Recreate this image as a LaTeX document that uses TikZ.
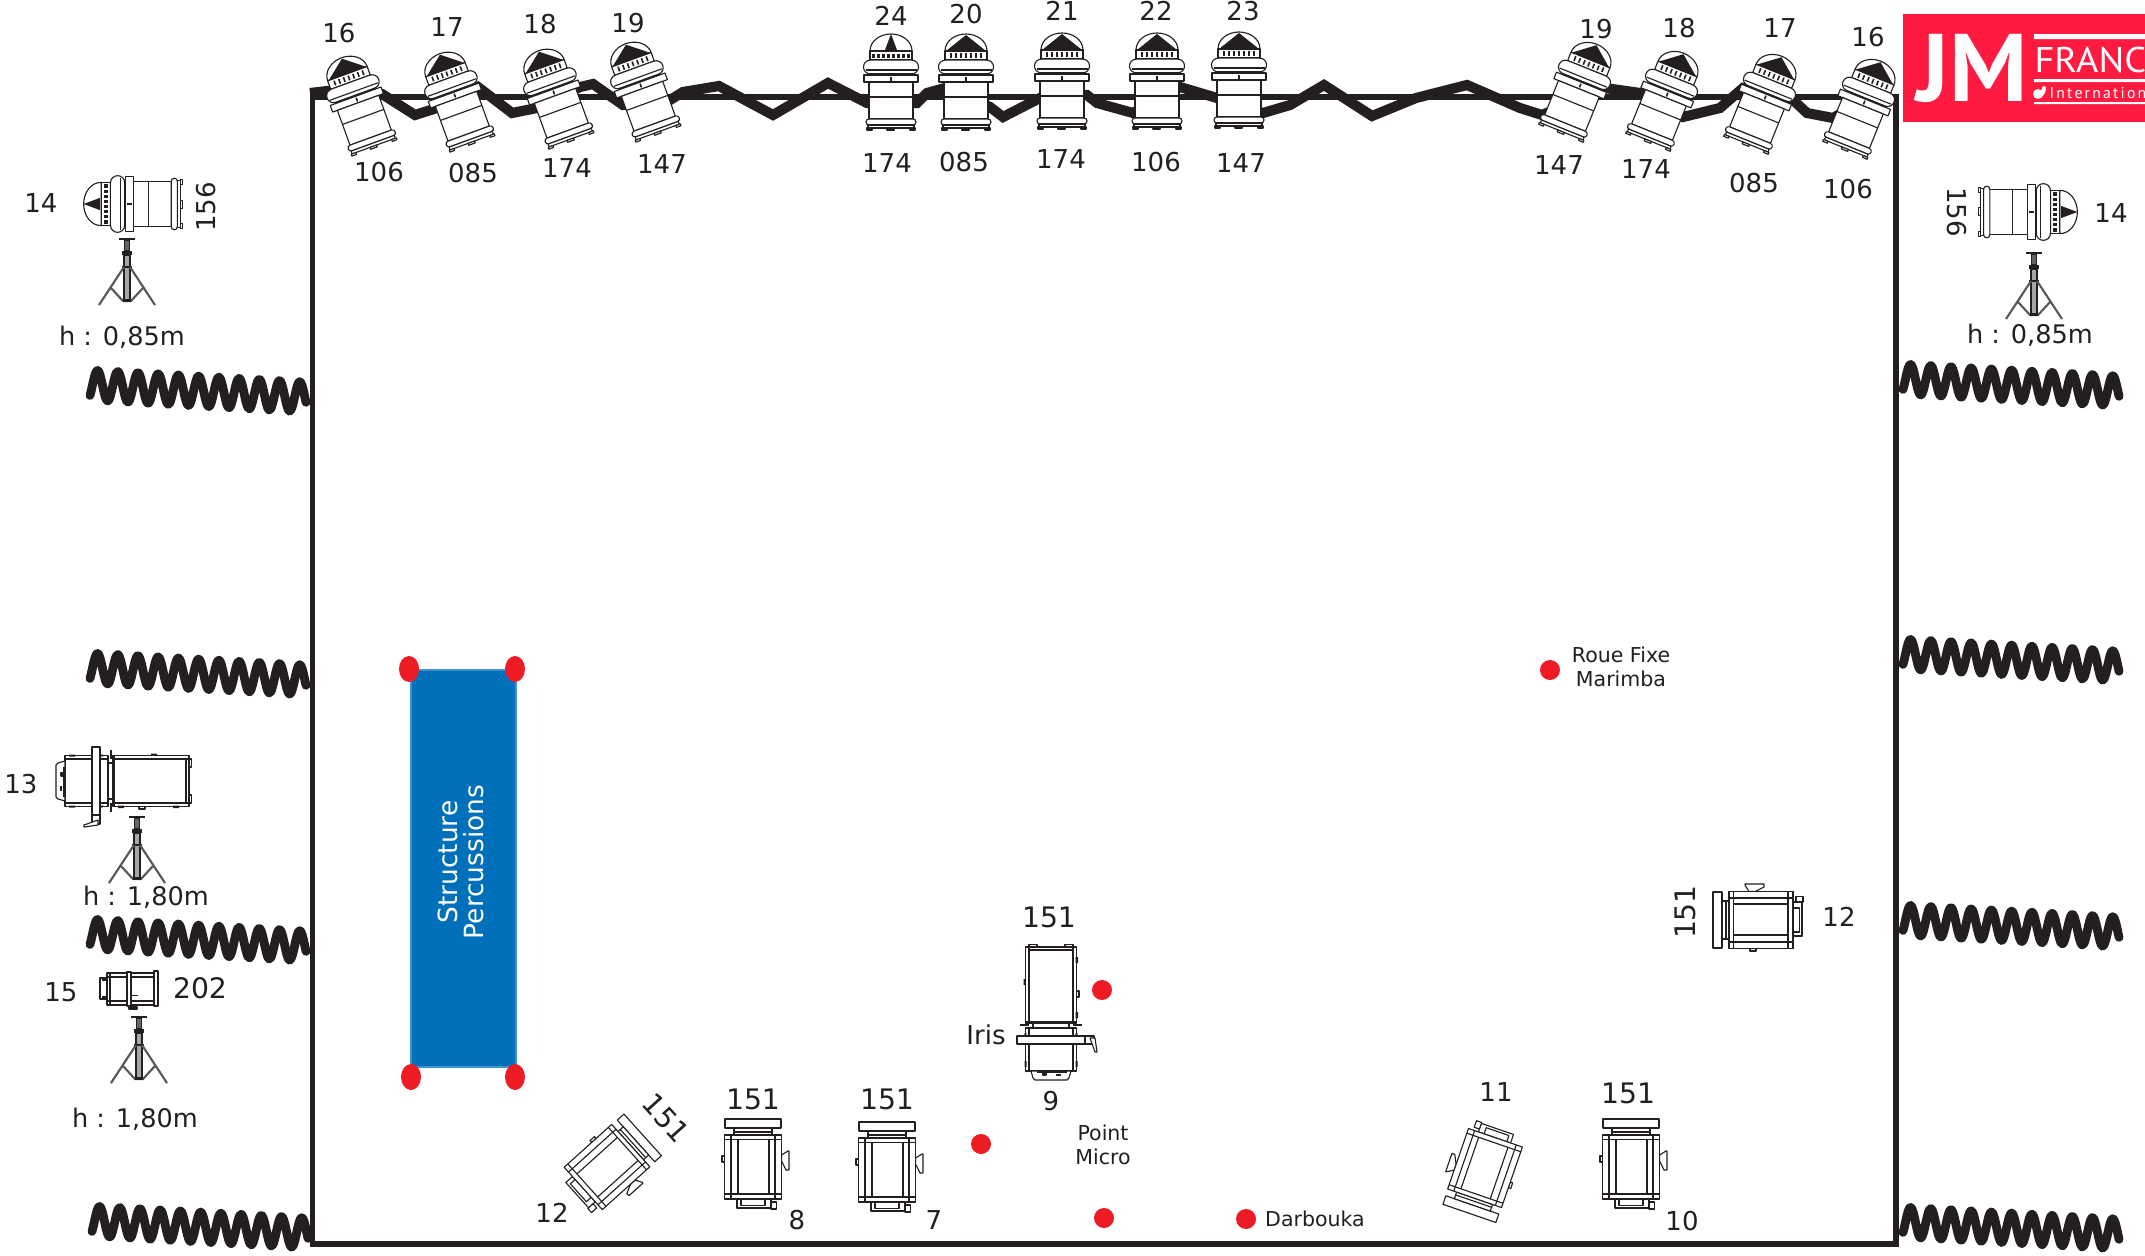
\documentclass[tikz,border=0pt]{standalone}
\usepackage{fontspec}
\setmainfont{DejaVu Sans}
\newfontfamily\logofont{PT Sans}
\newfontfamily\logospaced[LetterSpace=14]{PT Sans}
\definecolor{ink}{HTML}{231F20}
\definecolor{dotred}{HTML}{ED1C24}
\definecolor{logored}{HTML}{FF1A40}
\definecolor{structblue}{HTML}{0070BA}
\newcommand\pcbody{%
  \draw[lum,fill=white] (-21,-28) .. controls (-21,-38) and (-11,-45) .. (0,-45) .. controls (11,-45) and (21,-38) .. (21,-28) -- cycle;
  \draw[lum,fill=white] (-21,-28) rectangle (21,-19);
  \draw[lum,fill=white] (-20,-19) .. controls (-30,-19) and (-30,-5) .. (-20,-5) -- (20,-5) .. controls (30,-5) and (30,-19) .. (20,-19) -- cycle;
  \draw[lum] (-25.5,-9) -- (25.5,-9);
  \draw[lum,fill=white] (-21,-5) rectangle (21,-4);
  \draw[lum,fill=white] (-27,-4) rectangle (27,3);
  \fill[ink] (-.8,-2.5) rectangle (.8,1.5);
  \draw[lum,fill=white] (-22,3) rectangle (22,40);
  \draw[lum] (-22,18) -- (22,18);
  \draw[lum,fill=white] (-22,40) .. controls (-26,40) and (-26,46) .. (-22,46) -- (22,46) .. controls (26,46) and (26,40) .. (22,40) -- cycle;
  \draw[lum,fill=white] (-23,46) rectangle (23,49);
  \draw[lum,fill=white] (-24,49) rectangle (-19,51);
  \draw[lum,fill=white] (19,49) rectangle (24,51);
  \draw[lum,fill=white] (-4,49) rectangle (3,51);
}
\tikzset{
  lum/.style={draw=ink,line width=.42pt,line join=round},
  lb/.style={font=\fontsize{9.75}{11.7}\selectfont,text=ink,inner sep=0pt},
  ht/.style={font=\fontsize{9.6}{11.7}\selectfont,text=ink,inner sep=0pt},
  lg/.style={font=\fontsize{10.6}{12.7}\selectfont,text=ink,inner sep=0pt},
  sm/.style={font=\fontsize{7.7}{9.2}\selectfont,text=ink,inner sep=0pt,align=center},
  wh/.style={font=\fontsize{9.9}{11.5}\selectfont,text=white,inner sep=0pt,rotate=90},
  dot/.style={fill=dotred},
  pcnarrow/.pic={\pcbody
    \fill[ink] (-20,-28) -- (0,-44) -- (20,-28) -- cycle;
    \foreach \t in {-15,-10,...,15} \fill[ink] (\t-.8,-26) rectangle (\t+.8,-21);
  },
  pcwide/.pic={\pcbody
    \fill[ink] (-6,-29) -- (0,-45) -- (6,-29) -- cycle;
    \foreach \t in {-17.5,-12.5,...,17.5} \fill[ink] (\t-1.5,-25.5) rectangle (\t+1.5,-21.5);
  },
  tripodstand/.pic={
    \draw[ink,line width=.9pt] (-8,0) -- (8,0);
    \fill[gray!80!black] (-2,0) rectangle (2,15);
    \draw[ink,line width=.42pt] (-2.5,1) rectangle (2.5,12);
    \fill[ink] (-5,12) rectangle (5,16);
    \draw[ink,line width=.42pt,fill=gray!70] (-3,16) rectangle (3,62);
    \fill[ink] (-5,27) rectangle (5,29);
    \draw[ink!75,line width=.8pt] (-3,28) -- (-28,66) (3,28) -- (28,66) (-16,49) -- (-4,62) -- (4,62) -- (16,49);
    \fill[ink] (-4,60) rectangle (4,63);
  },
  ellipsoidal/.pic={
    \draw[lum,fill=white] (-22,-95.5) rectangle (-14,-93);
    \draw[lum,fill=white] (14,-95.5) rectangle (22,-93);
    \draw[lum,fill=white] (-25.5,-93) rectangle (25.5,-17);
    \draw[lum] (-22,-90) -- (22,-90) (-22,-93) -- (-22,-17) (22,-93) -- (22,-17);
    \draw[ink,line width=1.1pt] (-25.5,-18) -- (25.5,-18);
    \fill[ink] (24.5,-83) rectangle (27,-77) (24.5,-28) rectangle (27,-22) (-27.5,-61) rectangle (-25.5,-55);
    \draw[lum,fill=white] (25.5,-49) rectangle (28,-43);
    \draw[lum,fill=white] (-18,-17) rectangle (18,-12);
    \draw[ink,line width=.7pt] (-31,-15) -- (-22,-15) (22,-15) -- (31,-15);
    \draw[lum,fill=white] (-25.5,-12) rectangle (25.5,31);
    \draw[lum] (-22,-12) -- (-22,31) (22,-12) -- (22,31);
    \fill[ink] (-26.5,21) rectangle (-24.5,27) (24.5,21) rectangle (26.5,27);
    \draw[lum,fill=white] (-20,31) -- (-18,38) -- (-16,40) -- (16,40) -- (18,38) -- (20,31) -- cycle;
    \draw[lum] (-14,32) -- (16,32) (-8,33) rectangle (-5,35);
    \fill[ink] (5,34) rectangle (10,36);
    \draw[lum,fill=white] (34,-4) rectangle (43,4);
    \draw[lum,fill=white] (39,-2) -- (44,-2) -- (46,12) -- (44,12) -- cycle;
    \draw[lum,fill=white] (-34,-4) rectangle (34,4);
    \fill[ink] (-25.5,-6) circle (1.3) (25.5,-6) circle (1.3);
  },
  boxlamp/.pic={
    \draw[lum,fill=white] (-28,-48) rectangle (28,-39);
    \draw[lum,fill=white] (-19,-39) rectangle (19,-32);
    \draw[lum] (-19,-35) -- (19,-35);
    \draw[lum,fill=white] (-31,-11) rectangle (-28.5,-5);
    \draw[lum,fill=white] (28.5,-12) -- (35,-16) -- (36,-16) -- (36,3) -- (33,3) -- (28.5,-6) -- cycle;
    \draw[lum,fill=white] (-16,32) rectangle (18,41);
    \draw[lum] (-12,32) -- (-12,38.5) -- (12,38.5) -- (12,32);
    \draw[lum,fill=white] (18,35) rectangle (23.5,42);
    \draw[lum,fill=white] (-28.5,-32) rectangle (28.5,32);
    \draw[lum] (-28.5,-27.5) -- (28.5,-27.5) (-28.5,27) -- (28.5,27);
    \draw[lum] (-22,-32) -- (-22,32) (-15,-27.5) -- (-15,27) (16,-27.5) -- (16,27) (22,-32) -- (22,32);
  },
  drape/.pic={
    \draw[ink,line width=3.3pt,line cap=round,line join=round]
      plot[domain=0:216,samples=170] (\x,{12*\x/216+15*sin(17.8*\x+136)});
  }
}
\begin{document}
\begin{tikzpicture}[x=.375pt,y=-.375pt]
\useasboundingbox (0,0) rectangle (2145,1256);
% logo
\fill[logored] (1903,14) rectangle (2145,122);
\fill[white] (2034,34) rectangle (2145,39) (2034,79) rectangle (2145,82) (2034,102) rectangle (2145,104);
\node[text=white,inner sep=0pt,font=\logofont\bfseries\fontsize{36}{36}\selectfont,xscale=1.02] (logojm) at (1972,68) {JM};
\node[text=white,inner sep=0pt,font=\logofont\fontsize{13.4}{13.4}\selectfont,xscale=1.07,anchor=west] (logofr) at (2034,60) {FRANC};
\node[text=white,inner sep=0pt,font=\logospaced\fontsize{5.9}{5.9}\selectfont,anchor=west] (logoin) at (2049,93) {Internation};
\fill[white] (2038,94) circle (5);
\fill[white] (2043,86) -- (2046,87) .. controls (2046,92) and (2044,96) .. (2040,98) -- (2040,93) -- cycle;
% frame
\draw[ink,line width=1.9pt,line join=miter] (312.5,97) rectangle (1896,1244);
% rigging cable
\draw[ink,line width=3.8pt,line join=miter]
 (310,93) -- (345,89) -- (382,94) -- (415,115) -- (437,108) -- (478,87) -- (512,113) -- (537,108)
 -- (580,87) -- (593,84) -- (623,105) -- (670,100) -- (683,92) -- (719,86) -- (773,115) -- (828,83)
 -- (867,103) -- (917,103) -- (927,93) -- (945,88) -- (990,107) -- (1003,117) -- (1040,98) -- (1087,95)
 -- (1097,103) -- (1133,113) -- (1180,87) -- (1217,98) -- (1263,113) -- (1290,105) -- (1324,85)
 -- (1372,116) -- (1416,98) -- (1467,85) -- (1520,108) -- (1542,115) -- (1605,88) -- (1640,93)
 -- (1683,117) -- (1720,108) -- (1743,88) -- (1793,100) -- (1807,113) -- (1833,118) -- (1864,100);
% drapes
\pic (dl1) at (90,385) {drape};
\pic (dl2) at (90,668) {drape};
\pic (dl3) at (90,934) {drape};
\pic (dl4) at (92,1221) {drape};
\pic (dr1) at (1903,379) {drape};
\pic (dr2) at (1903,654) {drape};
\pic (dr3) at (1903,920) {drape};
\pic (dr4) at (1903,1222) {drape};
% overhead lights
\pic[rotate=20] (p1) at (357,100) {pcnarrow};
\pic[rotate=20] (p2) at (455,96) {pcnarrow};
\pic[rotate=20] (p3) at (554,93) {pcnarrow};
\pic[rotate=20] (p4) at (641,86) {pcnarrow};
\pic (p5) at (891,79) {pcwide};
\pic (p6) at (966,79) {pcnarrow};
\pic (p7) at (1062,78) {pcnarrow};
\pic (p8) at (1157,78) {pcnarrow};
\pic (p9) at (1239,77) {pcnarrow};
\pic[rotate=-22] (p10) at (1580,86) {pcnarrow};
\pic[rotate=-22] (p11) at (1667,95) {pcnarrow};
\pic[rotate=-22] (p12) at (1765,98) {pcnarrow};
\pic[rotate=-22] (p13) at (1864,103) {pcnarrow};
% side lights
\pic[rotate=90,scale=1.03] (s1) at (130,204) {pcwide};
\pic[rotate=-90,scale=1.03] (s2) at (2031,212) {pcwide};
\pic (t1) at (127,239) {tripodstand};
\pic (t2) at (2034,253) {tripodstand};
\pic (t3) at (137,817) {tripodstand};
\pic (t4) at (139,1017) {tripodstand};
\pic[rotate=-90] (e1) at (96,781) {ellipsoidal};
\pic (e2) at (1051,1040) {ellipsoidal};
% small flood 15
\draw[lum,fill=white] (100,978) -- (107,978) -- (107,999) -- (100,999) -- cycle;
\draw[lum] (102,980) -- (107,980) (102,997) -- (107,997);
\draw[lum,fill=white] (107,973) rectangle (157,1005);
\draw[lum] (107,977) -- (157,977) (107,1001) -- (157,1001) (110,973) -- (110,1005);
\draw[lum,fill=white] (127,972) rectangle (131,1006);
\draw[lum,fill=white] (154,971) rectangle (158,1006);
\draw[ink,line width=.6pt] (131,995.5) -- (138,995.5);
\draw[lum,fill=gray!40] (129,1007) rectangle (137,1009);
% floor lights
\pic (b1) at (753,1167) {boxlamp};
\pic (b2) at (887,1170) {boxlamp};
\pic (b3) at (1631,1167) {boxlamp};
\pic[rotate=161] (b4) at (1485,1168) {boxlamp};
\pic[rotate=-48] (b5) at (607,1167) {boxlamp};
\pic[rotate=90] (b6) at (1761,920) {boxlamp};
% structure
\draw[structblue!75!white,line width=.4pt,fill=structblue] (411,670) rectangle (516,1067);
\node[wh] (st1) at (448,862) {Structure};
\node[wh] (st2) at (474,862) {Percussions};
% red marks
\fill[dot] (409,669) ellipse [x radius=10,y radius=13];
\fill[dot] (515,669) ellipse [x radius=10,y radius=13];
\fill[dot] (411,1077) ellipse [x radius=10,y radius=13];
\fill[dot] (515,1077) ellipse [x radius=10,y radius=13];
\fill[dot] (1102,990) circle (10);
\fill[dot] (981,1144) circle (10);
\fill[dot] (1104,1218) circle (10);
\fill[dot] (1246,1219) circle (10);
\fill[dot] (1550,670) circle (10);
% labels
\node[lb] (a1) at (339,33) {16};
\node[lb] (a2) at (447,27) {17};
\node[lb] (a3) at (540,24) {18};
\node[lb] (a4) at (628,23) {19};
\node[lb] (a5) at (379,172) {106};
\node[lb] (a6) at (473,173) {085};
\node[lb] (a7) at (567,168) {174};
\node[lb] (a8) at (662,164) {147};
\node[lb] (c1) at (891,16) {24};
\node[lb] (c2) at (966,14) {20};
\node[lb] (c3) at (1062,11) {21};
\node[lb] (c4) at (1156,11) {22};
\node[lb] (c5) at (1243,11) {23};
\node[lb] (c6) at (887,163) {174};
\node[lb] (c7) at (964,162) {085};
\node[lb] (c8) at (1061,159) {174};
\node[lb] (c9) at (1156,162) {106};
\node[lb] (c10) at (1241,163) {147};
\node[lb] (d1) at (1596,29) {19};
\node[lb] (d2) at (1679,28) {18};
\node[lb] (d3) at (1780,28) {17};
\node[lb] (d4) at (1868,37) {16};
\node[lb] (d5) at (1559,165) {147};
\node[lb] (d6) at (1646,169) {174};
\node[lb] (d7) at (1754,183) {085};
\node[lb] (d8) at (1848,189) {106};
\node[lb] (l1) at (41,203) {14};
\node[lb,rotate=90] (l2) at (206,207) {156};
\node[ht] (l3) at (122,337) {h : 0,85m};
\node[lb] (l4) at (21,784) {13};
\node[ht] (l5) at (146,897) {h : 1,80m};
\node[lb] (l6) at (61,992) {15};
\node[lg] (l7) at (200,988) {202};
\node[ht] (l8) at (135,1119) {h : 1,80m};
\node[lb,rotate=-90] (r1) at (1957,212) {156};
\node[lb] (r2) at (2111,213) {14};
\node[ht] (r3) at (2030,335) {h : 0,85m};
\node[lg] (f1) at (1049,917) {151};
\node[lb] (f2) at (986,1035) {Iris};
\node[lb] (f3) at (1051,1101) {9};
\node[lg,rotate=-48] (f4) at (666,1118) {151};
\node[lb] (f5) at (552,1213) {12};
\node[lg] (f6) at (753,1099) {151};
\node[lb] (f7) at (797,1220) {8};
\node[lg] (f8) at (887,1099) {151};
\node[lb] (f9) at (934,1220) {7};
\node[lb] (f10) at (1496,1092) {11};
\node[lg] (f11) at (1628,1093) {151};
\node[lb] (f12) at (1682,1221) {10};
\node[lg,rotate=90] (f13) at (1685,912) {151};
\node[lb] (f14) at (1839,917) {12};
\node[sm] (m1) at (1621,667) {Roue Fixe\\Marimba};
\node[sm] (m2) at (1103,1145) {Point\\Micro};
\node[sm] (m3) at (1315,1219) {Darbouka};
\end{tikzpicture}
\end{document}
